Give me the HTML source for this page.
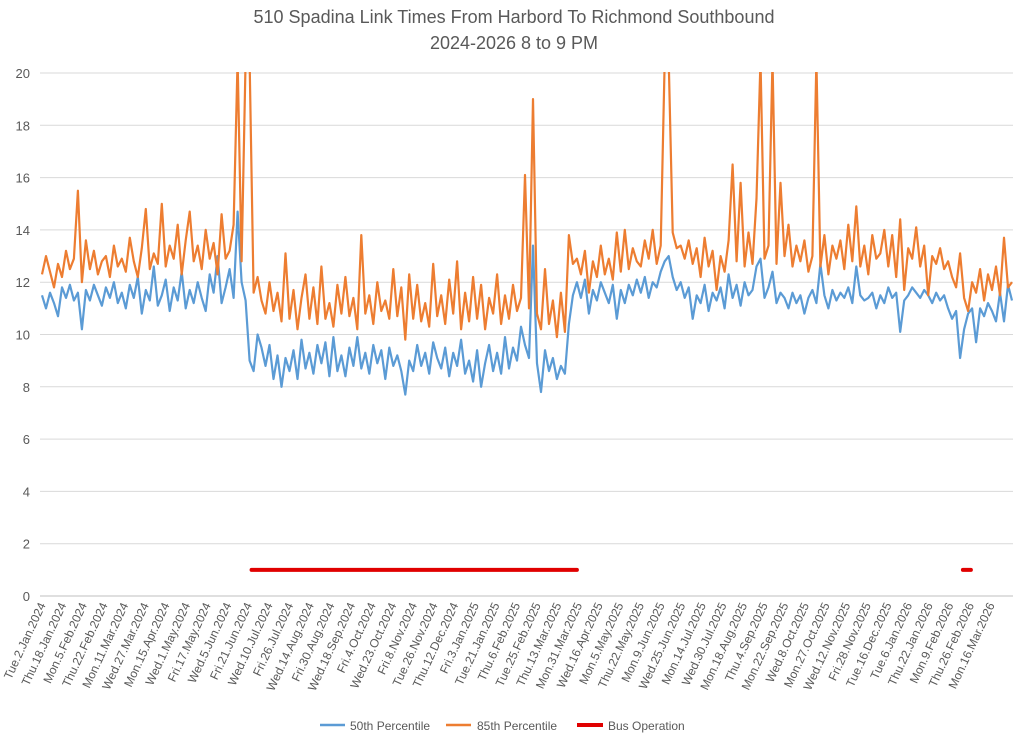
<!DOCTYPE html>
<html><head><meta charset="utf-8"><style>
html,body{margin:0;padding:0;background:#fff;}
svg{display:block;font-family:"Liberation Sans",sans-serif;}
</style></head><body>
<svg id="chart" width="1024" height="742" viewBox="0 0 1024 742" xmlns="http://www.w3.org/2000/svg">
<defs><clipPath id="plotclip"><rect x="30" y="72" width="990" height="530"/></clipPath></defs>
<text x="514" y="23" text-anchor="middle" font-size="18" fill="#595959">510 Spadina Link Times From Harbord To Richmond Southbound</text>
<text x="514" y="49" text-anchor="middle" font-size="18" fill="#595959">2024-2026 8 to 9 PM</text>
<g id="grid"></g>
<g id="yticks"></g>
<g id="xticks"></g>
<g id="series" clip-path="url(#plotclip)"></g>
<g>
<g><line x1="320" y1="725" x2="345" y2="725" stroke="#5b9bd5" stroke-width="2.5"/><text x="350" y="730" font-size="12" fill="#595959">50th Percentile</text></g>
<g><line x1="446" y1="725" x2="471" y2="725" stroke="#ed7d31" stroke-width="2.5"/><text x="477" y="730" font-size="12" fill="#595959">85th Percentile</text></g>
<g><line x1="577" y1="725" x2="603" y2="725" stroke="#e00000" stroke-width="4"/><text x="608" y="730" font-size="12" fill="#595959">Bus Operation</text></g>
</g>
</svg>
<script>
const xLabels=["Tue.2.Jan.2024","Thu.18.Jan.2024","Mon.5.Feb.2024","Thu.22.Feb.2024","Mon.11.Mar.2024","Wed.27.Mar.2024","Mon.15.Apr.2024","Wed.1.May.2024","Fri.17.May.2024","Wed.5.Jun.2024","Fri.21.Jun.2024","Wed.10.Jul.2024","Fri.26.Jul.2024","Wed.14.Aug.2024","Fri.30.Aug.2024","Wed.18.Sep.2024","Fri.4.Oct.2024","Wed.23.Oct.2024","Fri.8.Nov.2024","Tue.26.Nov.2024","Thu.12.Dec.2024","Fri.3.Jan.2025","Tue.21.Jan.2025","Thu.6.Feb.2025","Tue.25.Feb.2025","Thu.13.Mar.2025","Mon.31.Mar.2025","Wed.16.Apr.2025","Mon.5.May.2025","Thu.22.May.2025","Mon.9.Jun.2025","Wed.25.Jun.2025","Mon.14.Jul.2025","Wed.30.Jul.2025","Mon.18.Aug.2025","Thu.4.Sep.2025","Mon.22.Sep.2025","Wed.8.Oct.2025","Mon.27.Oct.2025","Wed.12.Nov.2025","Fri.28.Nov.2025","Tue.16.Dec.2025","Tue.6.Jan.2026","Thu.22.Jan.2026","Mon.9.Feb.2026","Thu.26.Feb.2026","Mon.16.Mar.2026"];
const yTicks=[0,2,4,6,8,10,12,14,16,18,20];
const p50=[11.5,11.0,11.6,11.2,10.7,11.8,11.4,11.9,11.3,11.6,
10.2,11.7,11.3,11.9,11.5,11.1,11.8,11.4,12.0,11.2,
11.6,11.0,11.9,11.4,12.2,10.8,11.7,11.3,12.6,11.1,
11.5,12.1,10.9,11.8,11.3,12.4,11.0,11.7,11.2,12.0,
11.4,10.9,12.3,11.6,13.0,11.2,11.8,12.5,11.4,14.7,
12.0,11.3,9.0,8.6,10.0,9.5,8.8,9.6,8.3,9.2,
8.0,9.1,8.6,9.4,8.3,9.8,8.7,9.3,8.5,9.6,
8.9,9.7,8.4,9.9,8.6,9.2,8.4,9.5,8.8,9.9,
8.7,9.3,8.5,9.6,8.9,9.4,8.3,9.5,8.8,9.2,
8.6,7.7,9.0,8.6,9.6,8.8,9.3,8.5,9.7,9.1,
8.7,9.5,8.4,9.3,8.8,9.8,8.5,9.0,8.2,9.4,
8.0,8.9,9.6,8.6,9.3,8.5,9.9,8.7,9.5,9.0,
10.3,9.6,9.1,13.4,8.9,7.8,9.4,8.6,9.1,8.3,
8.8,8.5,10.4,11.5,12.0,11.4,12.1,10.8,11.7,11.3,
12.0,11.6,11.2,11.9,10.6,11.7,11.2,11.9,11.5,12.1,
11.6,12.2,11.4,12.0,11.8,12.4,12.8,13.0,12.2,11.7,
12.0,11.4,11.8,10.6,11.5,11.2,11.9,10.9,11.6,11.3,
11.8,11.0,12.3,11.4,11.9,11.1,12.0,11.5,11.7,12.6,
12.9,11.4,11.8,12.4,11.2,11.6,11.4,11.0,11.6,11.2,
11.5,10.8,11.4,11.7,11.2,12.7,11.5,11.0,11.7,11.3,
11.6,11.4,11.8,11.2,12.6,11.5,11.3,11.4,11.6,11.0,
11.5,11.2,11.8,11.4,11.6,10.1,11.3,11.5,11.8,11.6,
11.4,11.7,11.5,11.2,11.6,11.3,11.5,11.0,10.6,10.9,
9.1,10.2,10.8,11.0,9.7,11.0,10.7,11.2,10.9,10.5,
11.6,10.5,11.9,11.3];
const p85=[12.3,13.0,12.4,11.8,12.7,12.2,13.2,12.5,12.9,15.5,
12.0,13.6,12.5,13.2,12.3,12.8,13.0,12.2,13.4,12.6,
12.9,12.4,13.7,12.8,12.2,13.3,14.8,12.5,13.1,12.7,
15.0,12.6,13.4,12.9,14.2,12.3,13.6,14.7,12.8,13.4,
12.5,14.0,12.9,13.5,12.3,14.6,12.9,13.2,14.2,20.5,
12.8,20.5,20.5,11.6,12.2,11.3,10.8,12.0,10.9,11.6,
10.5,13.1,10.6,11.7,10.2,11.4,12.3,10.6,11.8,10.4,
12.6,10.6,11.2,10.3,11.9,10.8,12.2,10.7,11.4,10.2,
13.8,10.8,11.5,10.4,12.0,10.9,11.3,10.6,12.5,10.7,
11.8,9.8,12.3,10.6,11.9,10.5,11.2,10.3,12.7,10.7,
11.5,10.4,12.1,10.8,12.8,10.2,11.6,10.5,12.2,10.6,
11.9,10.2,11.4,10.8,12.3,10.4,11.5,10.6,11.9,10.9,
11.4,16.1,11.0,19.0,10.8,10.2,12.5,10.4,11.3,9.9,
11.6,10.1,13.8,12.7,12.9,12.3,13.2,11.6,12.8,12.2,
13.4,12.3,12.9,12.1,13.9,12.4,14.0,12.5,13.3,12.8,
12.6,13.6,12.9,14.0,12.7,13.4,20.5,20.5,13.9,13.3,
13.4,12.9,13.6,12.7,13.3,12.2,13.7,12.6,13.2,11.7,
13.0,12.4,13.6,16.5,12.8,15.8,12.6,13.9,12.7,15.2,
20.5,12.9,13.4,20.5,12.7,15.8,13.0,14.2,12.6,13.4,
12.8,13.6,12.4,13.0,20.5,12.6,13.8,12.3,13.4,12.9,
13.6,12.5,14.2,12.8,14.9,12.6,13.4,12.3,13.8,12.9,
13.1,14.0,12.6,13.8,12.2,14.4,11.7,13.3,12.9,14.1,
12.6,13.4,11.5,13.0,12.7,13.3,12.5,12.8,12.2,11.8,
13.1,11.4,10.9,12.0,11.6,12.5,11.3,12.3,11.7,12.6,
11.5,13.7,11.8,12.0];
const busStart=[52.5,230.7];
const busEnd=[134,232.7];
const busValue=1;

const NS="http://www.w3.org/2000/svg";
const X0=42,X1=1012,Y0=596,YTOP=73;
const N=p50.length;
function xScale(i){return X0+i*(X1-X0)/(N-1);}
function yScale(v){return Y0-v*(Y0-YTOP)/20;}
function mk(tag,attrs,parent){const e=document.createElementNS(NS,tag);for(const k in attrs)e.setAttribute(k,attrs[k]);parent.appendChild(e);return e;}
const grid=document.getElementById('grid'),yt=document.getElementById('yticks'),xt=document.getElementById('xticks'),ser=document.getElementById('series');
yTicks.forEach(v=>{
  const l=mk('line',{x1:40,x2:1013,y1:yScale(v),y2:yScale(v),stroke:v===0?'#bfbfbf':'#d9d9d9','stroke-width':1},grid);
  
  
  const t=mk('text',{x:30,y:yScale(v)+5,'text-anchor':'end','font-size':13,fill:'#595959'},yt);
  t.textContent=v;
  
  
});
xLabels.forEach((s,k)=>{
  const x=46+k*(995-46)/(xLabels.length-1);
  const t=mk('text',{x:x,y:605,'text-anchor':'end','font-size':12,fill:'#595959',transform:'rotate(-65 '+x+' 605)'},xt);
  t.textContent=s;
  
  
});
function path(arr,color,name){
  const d=arr.map((v,i)=>(i?'L':'M')+xScale(i).toFixed(1)+' '+yScale(v).toFixed(1)).join(' ');
  const p=mk('path',{d:d,fill:'none',stroke:color,'stroke-width':2.2,'stroke-linejoin':'round'},ser);
  
  
}
path(p50,'#5b9bd5','line-50th-percentile');
path(p85,'#ed7d31','line-85th-percentile');
busStart.forEach((s,k)=>{
  const l=mk('line',{x1:xScale(s),x2:xScale(busEnd[k]),y1:yScale(busValue),y2:yScale(busValue),stroke:'#e00000','stroke-width':4,'stroke-linecap':'round'},ser);
  
  
});
</script>
</body></html>
